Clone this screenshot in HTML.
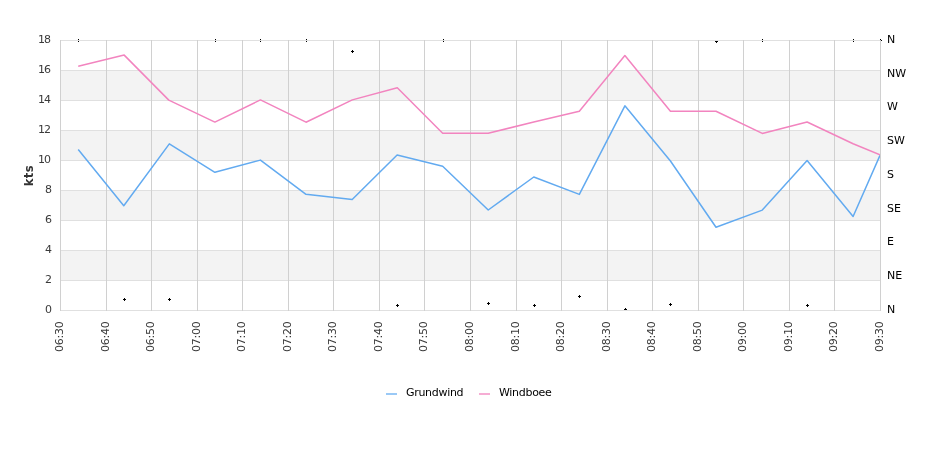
<!DOCTYPE html><html><head><meta charset="utf-8"><title>Wind</title><style>
html,body{margin:0;padding:0;background:#fff;width:940px;height:450px;overflow:hidden}
svg{display:block}
text{font-family:"DejaVu Sans","Liberation Sans",sans-serif}
</style></head><body>
<svg width="940" height="450" viewBox="0 0 940 450">
<rect width="940" height="450" fill="#fff"/>
<rect x="60" y="70" width="820" height="30" fill="#f3f3f3"/>
<rect x="60" y="130" width="820" height="30" fill="#f3f3f3"/>
<rect x="60" y="190" width="820" height="30" fill="#f3f3f3"/>
<rect x="60" y="250" width="820" height="30" fill="#f3f3f3"/>
<path d="M78 39h1v3h-1zM77 40h3v1h-3z" fill="#000" shape-rendering="crispEdges"/>
<path d="M124 298h1v3h-1zM123 299h3v1h-3z" fill="#000" shape-rendering="crispEdges"/>
<path d="M169 298h1v3h-1zM168 299h3v1h-3z" fill="#000" shape-rendering="crispEdges"/>
<path d="M215 39h1v3h-1zM214 40h3v1h-3z" fill="#000" shape-rendering="crispEdges"/>
<path d="M260 39h1v3h-1zM259 40h3v1h-3z" fill="#000" shape-rendering="crispEdges"/>
<path d="M306 39h1v3h-1zM305 40h3v1h-3z" fill="#000" shape-rendering="crispEdges"/>
<path d="M352 50h1v3h-1zM351 51h3v1h-3z" fill="#000" shape-rendering="crispEdges"/>
<path d="M397 304h1v3h-1zM396 305h3v1h-3z" fill="#000" shape-rendering="crispEdges"/>
<path d="M443 39h1v3h-1zM442 40h3v1h-3z" fill="#000" shape-rendering="crispEdges"/>
<path d="M488 302h1v3h-1zM487 303h3v1h-3z" fill="#000" shape-rendering="crispEdges"/>
<path d="M534 304h1v3h-1zM533 305h3v1h-3z" fill="#000" shape-rendering="crispEdges"/>
<path d="M579 295h1v3h-1zM578 296h3v1h-3z" fill="#000" shape-rendering="crispEdges"/>
<path d="M625 308h1v3h-1zM624 309h3v1h-3z" fill="#000" shape-rendering="crispEdges"/>
<path d="M670 303h1v3h-1zM669 304h3v1h-3z" fill="#000" shape-rendering="crispEdges"/>
<path d="M716 40h1v3h-1zM715 41h3v1h-3z" fill="#000" shape-rendering="crispEdges"/>
<path d="M762 39h1v3h-1zM761 40h3v1h-3z" fill="#000" shape-rendering="crispEdges"/>
<path d="M807 304h1v3h-1zM806 305h3v1h-3z" fill="#000" shape-rendering="crispEdges"/>
<path d="M853 39h1v3h-1zM852 40h3v1h-3z" fill="#000" shape-rendering="crispEdges"/>
<path d="M880 39h1v3h-1zM879 40h3v1h-3z" fill="#000" shape-rendering="crispEdges"/>
<rect x="60" y="40" width="821" height="1" fill="#e0e0e0"/>
<rect x="60" y="70" width="821" height="1" fill="#e0e0e0"/>
<rect x="60" y="100" width="821" height="1" fill="#e0e0e0"/>
<rect x="60" y="130" width="821" height="1" fill="#e0e0e0"/>
<rect x="60" y="160" width="821" height="1" fill="#e0e0e0"/>
<rect x="60" y="190" width="821" height="1" fill="#e0e0e0"/>
<rect x="60" y="220" width="821" height="1" fill="#e0e0e0"/>
<rect x="60" y="250" width="821" height="1" fill="#e0e0e0"/>
<rect x="60" y="280" width="821" height="1" fill="#e0e0e0"/>
<rect x="60" y="310" width="821" height="1" fill="#e0e0e0"/>
<rect x="60" y="40" width="1" height="271" fill="#d0d0d0"/>
<rect x="106" y="40" width="1" height="271" fill="#d0d0d0"/>
<rect x="151" y="40" width="1" height="271" fill="#d0d0d0"/>
<rect x="197" y="40" width="1" height="271" fill="#d0d0d0"/>
<rect x="242" y="40" width="1" height="271" fill="#d0d0d0"/>
<rect x="288" y="40" width="1" height="271" fill="#d0d0d0"/>
<rect x="333" y="40" width="1" height="271" fill="#d0d0d0"/>
<rect x="379" y="40" width="1" height="271" fill="#d0d0d0"/>
<rect x="424" y="40" width="1" height="271" fill="#d0d0d0"/>
<rect x="470" y="40" width="1" height="271" fill="#d0d0d0"/>
<rect x="516" y="40" width="1" height="271" fill="#d0d0d0"/>
<rect x="561" y="40" width="1" height="271" fill="#d0d0d0"/>
<rect x="607" y="40" width="1" height="271" fill="#d0d0d0"/>
<rect x="652" y="40" width="1" height="271" fill="#d0d0d0"/>
<rect x="698" y="40" width="1" height="271" fill="#d0d0d0"/>
<rect x="743" y="40" width="1" height="271" fill="#d0d0d0"/>
<rect x="789" y="40" width="1" height="271" fill="#d0d0d0"/>
<rect x="834" y="40" width="1" height="271" fill="#d0d0d0"/>
<rect x="880" y="40" width="1" height="271" fill="#d0d0d0"/>
<defs><clipPath id="pc"><rect x="60" y="40" width="820" height="270"/></clipPath></defs><g clip-path="url(#pc)">
<polyline points="78.22,149.50 123.78,205.70 169.33,143.90 214.89,172.30 260.44,160.10 306.00,194.30 352.20,199.50 397.11,155.00 442.67,166.20 488.22,210.00 533.78,177.00 579.33,194.40 624.89,105.80 670.44,161.00 716.00,227.20 762.30,210.10 807.11,160.60 853.10,216.50 880.00,155.30" fill="none" stroke="#62aaf0" stroke-width="1.5" stroke-linejoin="round" stroke-linecap="butt"/>
<polyline points="78.22,66.30 124.20,55.10 168.80,100.10 214.89,122.10 260.44,99.90 306.00,122.20 352.30,99.90 397.30,87.80 442.67,133.20 488.22,133.20 533.78,122.10 579.33,111.20 624.89,55.50 670.44,111.20 716.00,111.20 762.30,133.40 807.11,122.00 853.10,143.80 880.00,154.70" fill="none" stroke="#f284bf" stroke-width="1.5" stroke-linejoin="round" stroke-linecap="butt"/>
</g>
<text x="38" y="43" font-size="11" fill="#3a3a3a" letter-spacing="-1">18</text>
<text x="38" y="73" font-size="11" fill="#3a3a3a" letter-spacing="-1">16</text>
<text x="38" y="103" font-size="11" fill="#3a3a3a" letter-spacing="-1">14</text>
<text x="38" y="133" font-size="11" fill="#3a3a3a" letter-spacing="-1">12</text>
<text x="38" y="163" font-size="11" fill="#3a3a3a" letter-spacing="-1">10</text>
<text x="45" y="193" font-size="11" fill="#3a3a3a">8</text>
<text x="45" y="223" font-size="11" fill="#3a3a3a">6</text>
<text x="45" y="253" font-size="11" fill="#3a3a3a">4</text>
<text x="45" y="283" font-size="11" fill="#3a3a3a">2</text>
<text x="45" y="313" font-size="11" fill="#3a3a3a">0</text>
<text x="887" y="43" font-size="11" fill="#000">N</text>
<text x="887" y="77" font-size="11" fill="#000">NW</text>
<text x="887" y="110" font-size="11" fill="#000">W</text>
<text x="887" y="144" font-size="11" fill="#000">SW</text>
<text x="887" y="178" font-size="11" fill="#000">S</text>
<text x="887" y="212" font-size="11" fill="#000">SE</text>
<text x="887" y="245" font-size="11" fill="#000">E</text>
<text x="887" y="279" font-size="11" fill="#000">NE</text>
<text x="887" y="313" font-size="11" fill="#000">N</text>
<text transform="translate(63.00,352) rotate(-90)" font-size="11" fill="#3a3a3a" letter-spacing="-0.25">06:30</text>
<text transform="translate(108.56,352) rotate(-90)" font-size="11" fill="#3a3a3a" letter-spacing="-0.25">06:40</text>
<text transform="translate(154.11,352) rotate(-90)" font-size="11" fill="#3a3a3a" letter-spacing="-0.25">06:50</text>
<text transform="translate(199.67,352) rotate(-90)" font-size="11" fill="#3a3a3a" letter-spacing="-0.25">07:00</text>
<text transform="translate(245.22,352) rotate(-90)" font-size="11" fill="#3a3a3a" letter-spacing="-0.25">07:10</text>
<text transform="translate(290.78,352) rotate(-90)" font-size="11" fill="#3a3a3a" letter-spacing="-0.25">07:20</text>
<text transform="translate(336.33,352) rotate(-90)" font-size="11" fill="#3a3a3a" letter-spacing="-0.25">07:30</text>
<text transform="translate(381.89,352) rotate(-90)" font-size="11" fill="#3a3a3a" letter-spacing="-0.25">07:40</text>
<text transform="translate(427.44,352) rotate(-90)" font-size="11" fill="#3a3a3a" letter-spacing="-0.25">07:50</text>
<text transform="translate(473.00,352) rotate(-90)" font-size="11" fill="#3a3a3a" letter-spacing="-0.25">08:00</text>
<text transform="translate(518.56,352) rotate(-90)" font-size="11" fill="#3a3a3a" letter-spacing="-0.25">08:10</text>
<text transform="translate(564.11,352) rotate(-90)" font-size="11" fill="#3a3a3a" letter-spacing="-0.25">08:20</text>
<text transform="translate(609.67,352) rotate(-90)" font-size="11" fill="#3a3a3a" letter-spacing="-0.25">08:30</text>
<text transform="translate(655.22,352) rotate(-90)" font-size="11" fill="#3a3a3a" letter-spacing="-0.25">08:40</text>
<text transform="translate(700.78,352) rotate(-90)" font-size="11" fill="#3a3a3a" letter-spacing="-0.25">08:50</text>
<text transform="translate(746.33,352) rotate(-90)" font-size="11" fill="#3a3a3a" letter-spacing="-0.25">09:00</text>
<text transform="translate(791.89,352) rotate(-90)" font-size="11" fill="#3a3a3a" letter-spacing="-0.25">09:10</text>
<text transform="translate(837.44,352) rotate(-90)" font-size="11" fill="#3a3a3a" letter-spacing="-0.25">09:20</text>
<text transform="translate(883.00,352) rotate(-90)" font-size="11" fill="#3a3a3a" letter-spacing="-0.25">09:30</text>
<text transform="translate(33.2,175.6) rotate(-90)" font-size="11.6" font-weight="bold" fill="#333" text-anchor="middle" letter-spacing="0.4">kts</text>
<rect x="386" y="393" width="11" height="2" fill="#9ac9f6"/>
<text x="406" y="396" font-size="11" fill="#000" letter-spacing="-0.3">Grundwind</text>
<rect x="479" y="393" width="11" height="2" fill="#f6add4"/>
<text x="499" y="396" font-size="11" fill="#000" letter-spacing="-0.3">Windboee</text>
</svg></body></html>
